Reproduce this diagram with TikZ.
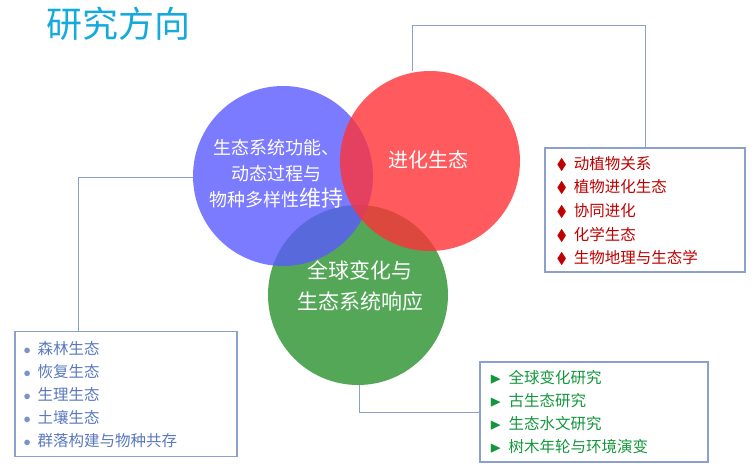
\documentclass[tikz,border=0pt]{standalone}
\usepackage{amssymb}
\usepackage{fontspec}
\setmainfont{Noto Sans CJK SC}
\definecolor{cblue}{RGB}{90,90,255}
\definecolor{cred}{RGB}{255,50,55}
\definecolor{cgreen}{RGB}{40,145,45}
\definecolor{boxline}{RGB}{140,160,205}
\definecolor{ltext}{RGB}{90,120,190}
\definecolor{gtext}{RGB}{20,150,60}
\definecolor{ttl}{RGB}{20,170,220}
\definecolor{dred}{RGB}{190,0,0}
\begin{document}
\begin{tikzpicture}[x=1pt,y=-1pt,
  circ/.style={circle,minimum size=180pt,inner sep=0pt,fill opacity=0.8},
  ctext/.style={text=white,font=\fontsize{20}{24}\selectfont,align=center},
  listbox/.style={draw=boxline,line width=1.2pt,inner sep=0pt},
  conn/.style={draw=boxline,line width=1pt},
  item/.style={anchor=west,font=\fontsize{15.5}{18}\selectfont}]
\useasboundingbox (0,0) rectangle (755,472);
\node[font=\fontsize{36}{40}\selectfont,text=ttl] (title) at (118,24) {研究方向};
\node[circ,fill=cgreen] (green) at (358,295) {};
\node[circ,fill=cblue] (blue) at (283,176) {};
\node[circ,fill=cred] (red) at (430,161) {};
\node[text=white,font=\fontsize{18}{26}\selectfont,align=center] (bt) at (276,174) {生态系统功能、\\动态过程与\\物种多样性{\fontsize{22}{26}\selectfont 维持}};
\node[ctext] (rt) at (428,160) {进化生态};
\node[ctext,font=\fontsize{21}{31}\selectfont] (gt) at (360,286) {全球变化与\\生态系统响应};
% boxes
\node[listbox,minimum width=200pt,minimum height=124pt] (rbox) at (645,210) {};
\node[listbox,minimum width=222pt,minimum height=125pt] (lbox) at (126,394) {};
\node[listbox,minimum width=228pt,minimum height=100pt] (gbox) at (594,412) {};
\foreach \t [count=\i] in {动植物关系,植物进化生态,协同进化,化学生态,生物地理与生态学}{
  \node[item,text=dred] (ri\i) at (553,140+\i*23.6) {$\blacklozenge$\ \ \t};}
\foreach \t [count=\i] in {森林生态,恢复生态,生理生态,土壤生态,群落构建与物种共存}{
  \node[item,text=ltext] (li\i) at (20,325+\i*23.2) {\textcolor{ltext!80}{\Large$\bullet$}\ \ \t};}
\foreach \t [count=\i] in {全球变化研究,古生态研究,生态水文研究,树木年轮与环境演变}{
  \node[item,text=gtext] (gi\i) at (486,354+\i*23.2) {$\blacktriangleright$\ \ \t};}
% connectors
\coordinate (c1) at (412,25); \coordinate (c2) at (645,25);
\draw[conn] (red.north -| c1) -- (c1) -- (c2) -- (rbox.north -| c2);
\coordinate (c3) at (78,177);
\draw[conn] (lbox.north -| c3) -- (c3) -- (blue.west |- c3);
\coordinate (c4) at (359,412);
\draw[conn] (green.south -| c4) -- (c4) -- (gbox.west |- c4);
\end{tikzpicture}
\end{document}
